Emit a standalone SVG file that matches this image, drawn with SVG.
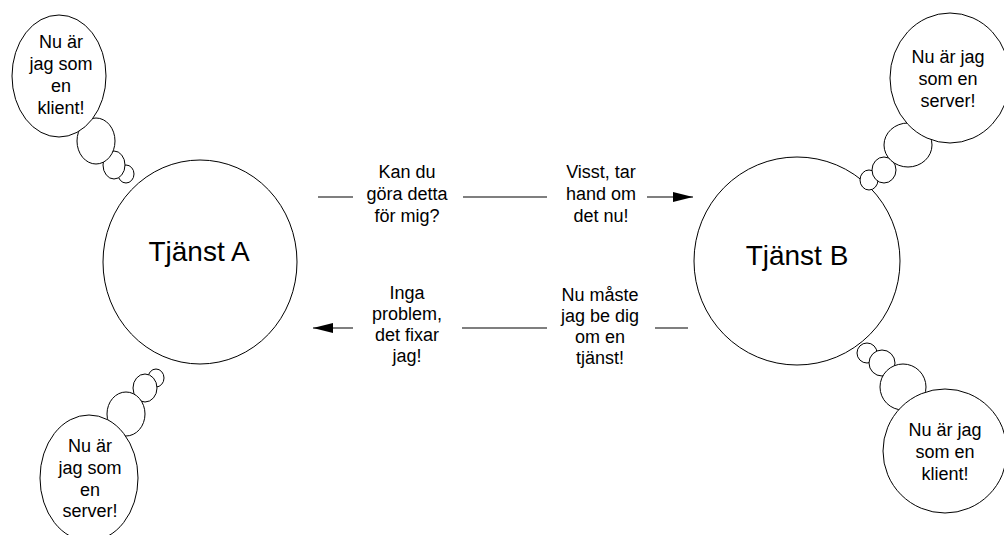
<svg xmlns="http://www.w3.org/2000/svg" width="1004" height="535" viewBox="0 0 1004 535">
  <defs>
    <style>
      .shape { fill: #ffffff; stroke: #000000; stroke-width: 1; }
      .lbl { font-family: "Liberation Sans", Arial, sans-serif; font-size: 18px; fill: #000000; text-anchor: middle; }
      .big { font-size: 28px; }
      .conn { stroke: #000000; stroke-width: 1.2; fill: none; }
    </style>
    <marker id="arrow" viewBox="0 0 20 10" refX="20" refY="5" markerWidth="20" markerHeight="10" markerUnits="userSpaceOnUse" orient="auto">
      <path d="M0,0 L20,5 L0,10 Z" fill="#000000"/>
    </marker>
  </defs>
  <rect width="1004" height="535" fill="#ffffff"/>

  <!-- Service A -->
  <g id="tjanst-a">
    <ellipse class="shape" cx="200" cy="262" rx="97" ry="102"/>
    <text class="lbl big" x="199" y="261">Tjänst A</text>
  </g>

  <!-- Service B -->
  <g id="tjanst-b">
    <ellipse class="shape" cx="797" cy="261" rx="103" ry="104"/>
    <text class="lbl big" x="797" y="265">Tjänst B</text>
  </g>

  <!-- Thought bubble: A as client -->
  <g id="bubble-a-klient">
    <ellipse class="shape" cx="126" cy="174" rx="8" ry="9"/>
    <ellipse class="shape" cx="114" cy="165" rx="11" ry="14"/>
    <ellipse class="shape" cx="96" cy="141" rx="19" ry="23"/>
    <ellipse class="shape" cx="59" cy="76" rx="47" ry="61"/>
    <text class="lbl" x="61" y="48">Nu är</text>
    <text class="lbl" x="61" y="70">jag som</text>
    <text class="lbl" x="61" y="92">en</text>
    <text class="lbl" x="61" y="114">klient!</text>
  </g>

  <!-- Thought bubble: A as server -->
  <g id="bubble-a-server">
    <ellipse class="shape" cx="156" cy="378" rx="8" ry="9"/>
    <ellipse class="shape" cx="145" cy="388" rx="12" ry="14"/>
    <ellipse class="shape" cx="126" cy="414" rx="19" ry="22"/>
    <ellipse class="shape" cx="89" cy="478" rx="49" ry="63"/>
    <text class="lbl" x="90" y="452">Nu är</text>
    <text class="lbl" x="90" y="474">jag som</text>
    <text class="lbl" x="90" y="496">en</text>
    <text class="lbl" x="90" y="517">server!</text>
  </g>

  <!-- Thought bubble: B as server -->
  <g id="bubble-b-server">
    <ellipse class="shape" cx="869" cy="180" rx="9" ry="10"/>
    <ellipse class="shape" cx="884" cy="170" rx="12" ry="13"/>
    <ellipse class="shape" cx="908" cy="145" rx="24" ry="22"/>
    <ellipse class="shape" cx="950" cy="78" rx="60" ry="65"/>
    <text class="lbl" x="948" y="63">Nu är jag</text>
    <text class="lbl" x="948" y="85">som en</text>
    <text class="lbl" x="948" y="107">server!</text>
  </g>

  <!-- Thought bubble: B as client -->
  <g id="bubble-b-klient">
    <ellipse class="shape" cx="867" cy="353" rx="10" ry="10"/>
    <ellipse class="shape" cx="882" cy="363" rx="13" ry="13"/>
    <ellipse class="shape" cx="903" cy="387" rx="23" ry="23"/>
    <ellipse class="shape" cx="945" cy="451" rx="62" ry="62"/>
    <text class="lbl" x="945" y="436">Nu är jag</text>
    <text class="lbl" x="945" y="458">som en</text>
    <text class="lbl" x="945" y="480">klient!</text>
  </g>

  <!-- Message connectors -->
  <g id="connectors">
    <line class="conn" x1="318" y1="197" x2="353" y2="197"/>
    <line class="conn" x1="463" y1="197" x2="547" y2="197"/>
    <line class="conn" x1="647" y1="197" x2="693" y2="197" marker-end="url(#arrow)"/>
    <line class="conn" x1="688" y1="328" x2="655" y2="328"/>
    <line class="conn" x1="547" y1="328" x2="462" y2="328"/>
    <line class="conn" x1="353" y1="328" x2="313" y2="328" marker-end="url(#arrow)"/>
  </g>

  <!-- Message labels -->
  <g id="label-request-a">
    <text class="lbl" x="407" y="178">Kan du</text>
    <text class="lbl" x="407" y="200">göra detta</text>
    <text class="lbl" x="407" y="222">för mig?</text>
  </g>
  <g id="label-reply-b">
    <text class="lbl" x="601" y="178">Visst, tar</text>
    <text class="lbl" x="601" y="200">hand om</text>
    <text class="lbl" x="601" y="222">det nu!</text>
  </g>
  <g id="label-request-b">
    <text class="lbl" x="600" y="301">Nu måste</text>
    <text class="lbl" x="600" y="322">jag be dig</text>
    <text class="lbl" x="600" y="343">om en</text>
    <text class="lbl" x="600" y="364">tjänst!</text>
  </g>
  <g id="label-reply-a">
    <text class="lbl" x="407" y="299">Inga</text>
    <text class="lbl" x="407" y="320">problem,</text>
    <text class="lbl" x="407" y="341">det fixar</text>
    <text class="lbl" x="407" y="362">jag!</text>
  </g>
</svg>
